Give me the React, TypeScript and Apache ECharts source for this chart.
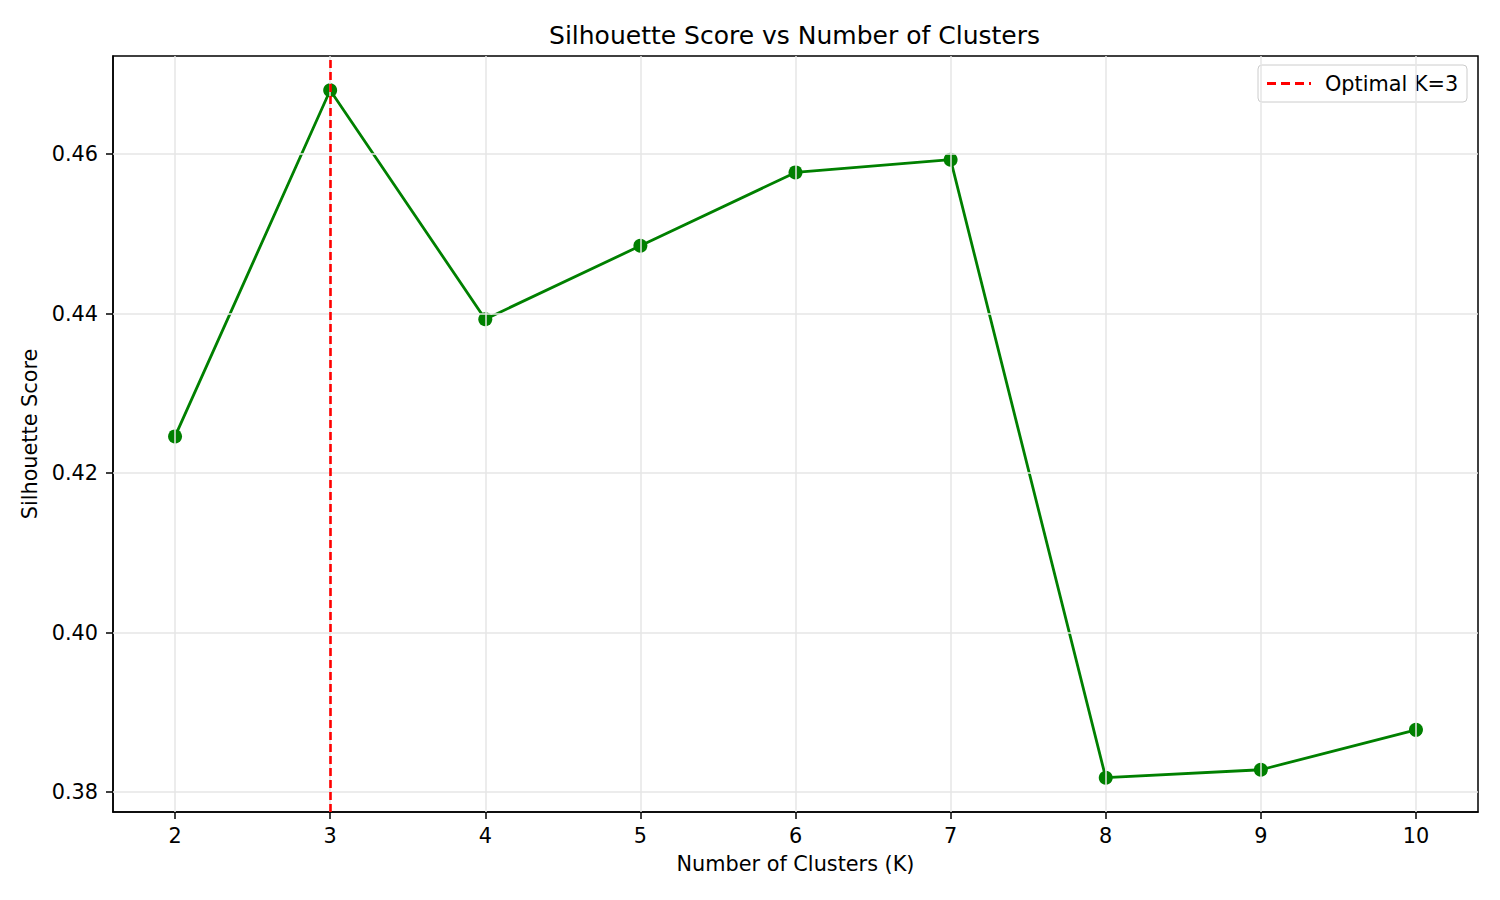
import React, { useEffect, useRef } from "react";
import * as echarts from "echarts";

const clusters = [2, 3, 4, 5, 6, 7, 8, 9, 10];
const scores = [0.4246, 0.468, 0.4393, 0.4485, 0.4577, 0.4593, 0.3818, 0.3828, 0.3878];
const yTicks = [0.38, 0.4, 0.42, 0.44, 0.46];
const optimalK = 3;
const legendName = "Optimal K=3";

export default function App() {
  const ref = useRef<HTMLDivElement>(null);
  useEffect(() => {
    if (!ref.current) return;
    const chart = echarts.init(ref.current, undefined, { renderer: "svg" });
    const font = "DejaVu Sans";
    const gridColor = "#e6e6e6";
    chart.setOption({
      animation: false,
      backgroundColor: "#ffffff",
      textStyle: { fontFamily: font },
      title: {
        text: "Silhouette Score vs Number of Clusters",
        left: 789.5,
        textAlign: "center",
        top: 18,
        textStyle: { fontFamily: font, fontSize: 25, fontWeight: "normal", color: "#000" },
      },
      graphic: [
        {
          type: "group",
          z: 100,
          children: [
            {
              type: "rect",
              shape: { x: 1258, y: 65, width: 209, height: 37, r: 4 },
              style: { fill: "rgba(255,255,255,0.8)", stroke: "#cccccc", lineWidth: 1 },
            },
            {
              type: "line",
              shape: { x1: 1267, y1: 83.5, x2: 1311, y2: 83.5 },
              style: { stroke: "#ff0000", lineWidth: 3, lineDash: [9, 5] },
            },
            {
              type: "text",
              x: 1325,
              y: 84,
              style: {
                text: legendName,
                fontFamily: font,
                fontSize: 20.8,
                fill: "#000",
                verticalAlign: "middle",
                align: "left",
              },
            },
          ],
        },
      ],
      grid: {
        left: 113,
        top: 56,
        width: 1365,
        height: 756,
        show: true,
        borderColor: "#000",
        borderWidth: 1.5,
        containLabel: false,
      },
      xAxis: {
        type: "value",
        min: 1.6,
        max: 10.4,
        name: "Number of Clusters (K)",
        nameLocation: "middle",
        nameGap: 41,
        nameTextStyle: { fontFamily: font, fontSize: 20.8, color: "#000" },
        axisLine: { show: true, lineStyle: { color: "#000", width: 1.5 } },
        axisTick: { show: true, length: 7, lineStyle: { color: "#000", width: 1.5 }, customValues: clusters },
        axisLabel: { fontFamily: font, fontSize: 20.8, color: "#000", margin: 13, customValues: clusters },
        splitLine: { show: false },
      },
      yAxis: {
        type: "value",
        min: 0.3775,
        max: 0.4723,
        name: "Silhouette Score",
        nameLocation: "middle",
        nameGap: 70,
        nameTextStyle: { fontFamily: font, fontSize: 20.8, color: "#000" },
        axisLine: { show: true, lineStyle: { color: "#000", width: 1.5 } },
        axisTick: { show: true, length: 7, lineStyle: { color: "#000", width: 1.5 }, customValues: yTicks },
        axisLabel: {
          fontFamily: font,
          fontSize: 20.8,
          color: "#000",
          margin: 15,
          customValues: yTicks,
          formatter: (v: number) => v.toFixed(2),
        },
        splitLine: { show: false },
      },
      series: [
        {
          name: "grid",
          type: "line",
          data: [],
          z: 1,
          silent: true,
          markLine: {
            silent: true,
            symbol: ["none", "none"],
            label: { show: false },
            lineStyle: { color: gridColor, width: 1.5, type: "solid" },
            data: [
              ...clusters.map((c) => ({ xAxis: c })),
              ...yTicks.map((t) => ({ yAxis: t })),
            ],
          },
        },
        {
          name: "Silhouette",
          type: "line",
          data: clusters.map((c, i) => [c, scores[i]]),
          z: 3,
          symbol: "circle",
          symbolSize: 14,
          showSymbol: true,
          lineStyle: { color: "#008000", width: 2.8 },
          itemStyle: { color: "#008000" },
        },
        {
          name: legendName,
          type: "line",
          data: [],
          z: 4,
          symbol: "none",
          lineStyle: { color: "#ff0000", width: 2.6 },
          markLine: {
            silent: true,
            symbol: ["none", "none"],
            label: { show: false },
            lineStyle: { color: "#ff0000", width: 2.6, type: [8, 4] },
            data: [{ xAxis: optimalK }],
          },
        },
      ],
    });
    return () => chart.dispose();
  }, []);
  return (
    <div
      ref={ref}
      style={{ position: "fixed", left: 0, top: 0, width: 1500, height: 900 }}
    />
  );
}
